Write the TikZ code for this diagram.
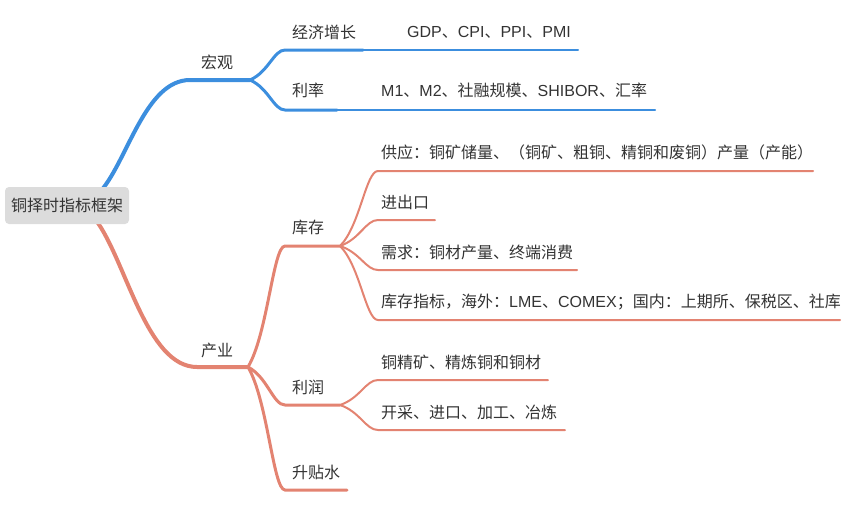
\documentclass[tikz,border=0pt]{standalone}
\usepackage{fontspec}
\setmainfont{Noto Sans CJK SC}
\newfontfamily\lat{Liberation Sans}
\usetikzlibrary{calc,backgrounds}
\definecolor{bl}{HTML}{3C8EDE}
\definecolor{og}{HTML}{E38371}
\definecolor{txt}{HTML}{333333}
\definecolor{rootfill}{HTML}{DCDCDC}
\begin{document}
\begin{tikzpicture}[x=1pt,y=-1pt,
  lbl/.style={anchor=west,inner sep=0pt,text=txt,font=\fontsize{16}{19}\selectfont},
  rootbox/.style={fill=rootfill,rounded corners=4pt,minimum width=124pt,minimum height=37pt,inner sep=0pt,text=txt,font=\fontsize{16}{19}\selectfont},
  maincurve/.style={to path={let \p1=(\tikztostart),\p2=(\tikztotarget) in .. controls ({\x1+0.3*(\x2-\x1)},{\y1+0.28*(\y2-\y1)}) and ({\x2-0.5*(\x2-\x1)},{\y2}) .. (\tikztotarget)}},
  subcurve/.style={to path={let \p1=(\tikztostart),\p2=(\tikztotarget) in .. controls ({\x1+0.53*(\x2-\x1)},{\y1+0.27*(\y2-\y1)}) and ({\x2-0.32*(\x2-\x1)},{\y2}) .. (\tikztotarget)}},
  lvone/.style={line width=4pt,line cap=round},
  lvtwo/.style={line width=3pt,line cap=round},
  lvleaf/.style={line width=2pt,line cap=round},
]
\useasboundingbox (0,0) rectangle (867,512);

% root
\node[rootbox] (root) at (67,205.5) {铜择时指标框架};
\coordinate (b0) at ([xshift=34pt,yshift=-4pt]root.north);
\coordinate (o0) at ([xshift=29pt,yshift=4pt]root.south);

% line coordinates
\coordinate (macro-s) at (190,80);  \coordinate (macro-e) at (250,80);
\coordinate (econ-s) at (285,50);   \coordinate (econ-e) at (363,50);
\coordinate (gdp-e) at (578,50);
\coordinate (rate-s) at (285,110);  \coordinate (rate-e) at (337,110);
\coordinate (m1-e) at (655,110);

\coordinate (ind-s) at (197,367);   \coordinate (ind-e) at (248,367);
\coordinate (stock-s) at (285,246); \coordinate (stock-e) at (340,246);
\coordinate (profit-s) at (285,405);\coordinate (profit-e) at (340,405);
\coordinate (basis-s) at (285,490); \coordinate (basis-e) at (347,490);
\coordinate (sup-s) at (378,171);   \coordinate (sup-e) at (813,171);
\coordinate (imp-s) at (378,220);   \coordinate (imp-e) at (435,220);
\coordinate (dem-s) at (378,270);   \coordinate (dem-e) at (577,270);
\coordinate (inv-s) at (378,320);   \coordinate (inv-e) at (840,320);
\coordinate (conc-s) at (378,380);  \coordinate (conc-e) at (548,380);
\coordinate (mine-s) at (378,430);  \coordinate (mine-e) at (565,430);

% labels
\node[lbl] (macro) at (201,62) {宏观};
\node[lbl] (econ) at (292,32) {经济增长};
\node[lbl] (gdp) at (407,32) {{\lat GDP}、{\lat CPI}、{\lat PPI}、{\lat PMI}};
\node[lbl] (rate) at (292,90) {利率};
\node[lbl] (m1) at (381,90) {{\lat M1}、{\lat M2}、社融规模、{\lat SHIBOR}、汇率};

\node[lbl] (ind) at (201,350) {产业};
\node[lbl] (stock) at (292,227) {库存};
\node[lbl] (profit) at (292,387) {利润};
\node[lbl] (basis) at (292,472) {升贴水};
\node[lbl] (sup) at (381,152) {供应：铜矿储量、（铜矿、粗铜、精铜和废铜）产量（产能）};
\node[lbl] (imp) at (381,202) {进出口};
\node[lbl] (dem) at (381,252) {需求：铜材产量、终端消费};
\node[lbl] (inv) at (381,302) {库存指标，海外：{\lat LME}、{\lat COMEX}；国内：上期所、保税区、社库};
\node[lbl] (conc) at (381,362) {铜精矿、精炼铜和铜材};
\node[lbl] (mine) at (381,412) {开采、进口、加工、冶炼};

\begin{scope}[on background layer]
  % blue branch
  \draw[bl,lvone] (b0) to[maincurve] (macro-s) -- (macro-e);
  \draw[bl,lvtwo] (macro-e) to[subcurve] (econ-s) -- (econ-e);
  \draw[bl,lvtwo] (macro-e) to[subcurve] (rate-s) -- (rate-e);
  \draw[bl,lvleaf] (econ-e) -- (gdp-e);
  \draw[bl,lvleaf] (rate-e) -- (m1-e);
  % orange branch
  \draw[og,lvone] (o0) to[maincurve] (ind-s) -- (ind-e);
  \draw[og,lvtwo] (ind-e) to[subcurve] (stock-s) -- (stock-e);
  \draw[og,lvtwo] (ind-e) to[subcurve] (profit-s) -- (profit-e);
  \draw[og,lvtwo] (ind-e) to[subcurve] (basis-s) -- (basis-e);
  \draw[og,lvleaf] (stock-e) to[subcurve] (sup-s) -- (sup-e);
  \draw[og,lvleaf] (stock-e) to[subcurve] (imp-s) -- (imp-e);
  \draw[og,lvleaf] (stock-e) to[subcurve] (dem-s) -- (dem-e);
  \draw[og,lvleaf] (stock-e) to[subcurve] (inv-s) -- (inv-e);
  \draw[og,lvleaf] (profit-e) to[subcurve] (conc-s) -- (conc-e);
  \draw[og,lvleaf] (profit-e) to[subcurve] (mine-s) -- (mine-e);
\end{scope}
\end{tikzpicture}
\end{document}
